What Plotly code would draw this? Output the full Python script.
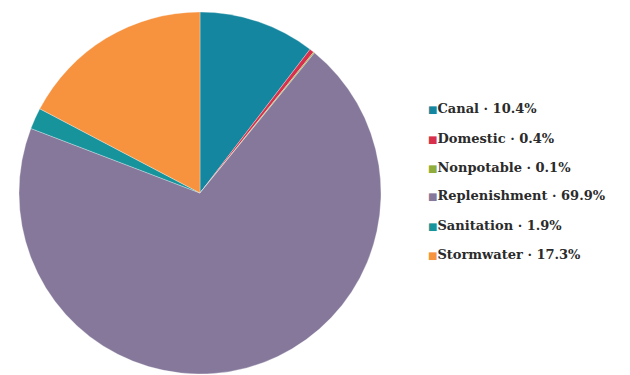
import plotly.graph_objects as go

# Share of water use by category (percent)
categories = ["Canal", "Domestic", "Nonpotable", "Replenishment", "Sanitation", "Stormwater"]
shares = [10.4, 0.4, 0.1, 69.9, 1.9, 17.3]
colors = ["#15869f", "#d8304c", "#8fad3c", "#85789a", "#17939c", "#f7923f"]

W, H = 630, 375

fig = go.Figure(
    go.Pie(
        labels=categories,
        values=shares,
        sort=False,
        direction="clockwise",
        rotation=0,
        textinfo="none",
        hoverinfo="label+percent",
        marker=dict(colors=colors, line=dict(color="rgba(255,255,255,0.5)", width=0.6)),
        domain=dict(x=[18 / W, 382 / W], y=[1 / H, 363 / H]),
        showlegend=False,
    )
)

# Custom legend: small colored squares followed by "name · share%"
legend_left = 426
legend_top = 109
legend_step = 29
for i, (name, val, col) in enumerate(zip(categories, shares, colors)):
    fig.add_annotation(
        x=legend_left / W,
        y=1 - (legend_top + i * legend_step) / H,
        xref="paper",
        yref="paper",
        text=f'<span style="color:{col};font-size:10px">■</span><b>{name} · {val}%</b>',
        showarrow=False,
        xanchor="left",
        yanchor="middle",
        font=dict(family="DejaVu Serif", size=13, color="#2b2b2b"),
    )

fig.update_layout(
    width=W,
    height=H,
    margin=dict(l=0, r=0, t=0, b=0),
    paper_bgcolor="white",
    plot_bgcolor="white",
)

fig.write_html("out.html")
